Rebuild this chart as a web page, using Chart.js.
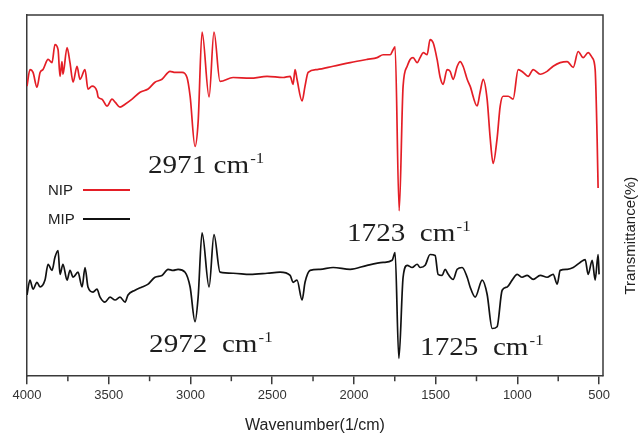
<!DOCTYPE html>
<html>
<head>
<meta charset="utf-8">
<script src="https://cdn.jsdelivr.net/npm/chart.js@4.4.1/dist/chart.umd.min.js"></script>
<style>
  html, body { margin: 0; padding: 0; background: #ffffff; }
  canvas { display: block; }
</style>
</head>
<body>
<canvas id="c" width="640" height="435"></canvas>
<script>
// ---- data (wavenumber in 1/cm, transmittance in arbitrary %) ----
const nipWavenumber = [4000,3982,3963,3939,3920,3902,3871,3847,3829,3810,3798,3786,3780,3755,3737,3718,3694,3676,3645,3627,3602,3572,3565,3541,3510,3480,3461,3431,3400,3357,3308,3259,3217,3174,3125,3094,3051,3021,3002,2972,2953,2929,2886,2856,2819,2739,2635,2531,2433,2390,2372,2360,2348,2317,2299,2280,2225,2127,2023,1919,1858,1821,1778,1760,1748,1723,1699,1674,1656,1638,1613,1595,1576,1552,1534,1515,1491,1472,1454,1430,1411,1393,1368,1350,1332,1307,1289,1246,1228,1209,1185,1166,1148,1124,1105,1087,1056,1026,995,964,934,903,860,818,781,738,695,658,628,597,567,542,524,512,506];
const nipTransmittance = [80.3,84.9,84.1,80.0,84.1,84.9,87.7,86.8,91.8,90.4,83.0,87.1,83.6,91.0,86.8,81.4,85.8,82.2,84.9,79.5,80.3,78.9,77.3,76.7,74.8,76.7,75.9,74.5,75.3,76.7,78.6,79.5,81.4,82.2,84.4,84.1,84.1,82.7,77.5,63.6,70.4,95.3,77.3,95.3,81.6,82.7,82.5,83.0,82.7,83.0,80.8,84.9,82.2,76.2,80.3,84.1,84.9,85.8,86.8,87.7,88.2,89.0,89.0,90.4,91.2,45.8,80.3,85.8,87.7,88.2,86.8,88.2,89.6,89.0,93.2,92.3,87.7,82.7,80.8,84.9,84.4,82.2,85.8,87.1,85.8,82.2,80.3,74.8,78.6,82.2,76.7,65.8,58.9,65.8,74.8,77.5,77.5,76.7,84.9,84.1,83.0,84.9,83.6,84.4,85.8,86.8,87.1,85.5,89.9,88.2,89.6,88.2,84.9,65.8,52.1];

const mipWavenumber = [4000,3982,3963,3939,3920,3890,3871,3847,3829,3810,3798,3780,3755,3737,3718,3688,3663,3645,3627,3596,3572,3553,3523,3492,3461,3431,3400,3382,3339,3296,3259,3217,3174,3137,3106,3076,3033,3002,2972,2953,2929,2886,2856,2819,2739,2635,2531,2452,2390,2372,2348,2317,2299,2268,2207,2127,2023,1919,1821,1766,1748,1725,1699,1674,1644,1613,1595,1564,1534,1503,1485,1460,1442,1423,1393,1368,1338,1307,1289,1258,1215,1185,1154,1124,1093,1062,1032,1001,971,940,903,860,818,781,756,738,695,658,616,585,567,542,524,506,500];
const mipTransmittance = [22.5,26.6,24.1,26.0,24.7,26.6,31.0,29.3,32.9,34.8,28.2,31.0,26.6,29.3,27.4,28.8,24.7,30.1,24.7,23.3,24.1,21.9,20.5,21.9,21.1,21.9,20.5,22.5,23.8,24.7,25.5,27.4,27.9,29.6,29.3,29.6,28.8,24.7,15.1,21.9,39.7,24.7,39.2,28.8,28.5,28.2,28.5,28.8,27.9,26.0,26.6,21.1,26.0,29.3,29.6,30.1,29.6,30.7,31.5,32.1,34.2,4.9,27.4,30.7,30.1,31.0,30.1,30.7,33.7,33.4,28.2,27.9,29.6,28.2,26.8,29.6,30.1,27.4,24.7,21.9,26.6,22.7,13.2,13.7,23.8,24.7,26.6,28.2,27.4,27.9,26.8,27.9,27.4,28.2,25.5,29.3,29.6,30.1,31.5,32.3,28.2,32.1,26.6,33.7,28.2];

const seriesNames = ['NIP', 'MIP'];
const xTickValues = [4000, 3500, 3000, 2500, 2000, 1500, 1000, 500];
const xTitle = 'Wavenumber(1/cm)';
const yTitle = 'Transmittance(%)';

// peak labels: main text + superscript, anchored in data units (left edge, baseline)
const peakLabels = [
  { text: '2971 cm',  sup: '-1', wn: 3260, t: 56.2 },
  { text: '1723  cm', sup: '-1', wn: 2042, t: 37.5 },
  { text: '2972  cm', sup: '-1', wn: 3253, t: 6.6 },
  { text: '1725  cm', sup: '-1', wn: 1595, t: 6.0 }
];

const toPoints = (xs, ys) => xs.map((x, i) => ({ x: x, y: ys[i] }));

const colors = ['#e41e26', '#111111'];
const frameColor = '#3a3a3a';

const decorPlugin = {
  id: 'decor',
  afterDraw(chart) {
    const c = chart.ctx;
    const a = chart.chartArea;
    const xs = chart.scales.x;
    const ys = chart.scales.y;
    c.save();
    // top and right frame
    c.strokeStyle = frameColor;
    c.lineWidth = 1.5;
    c.beginPath();
    c.moveTo(a.left, a.top);
    c.lineTo(a.right, a.top);
    c.lineTo(a.right, a.bottom);
    c.stroke();
    // minor ticks halfway between major ticks
    xs.ticks.forEach(tk => {
      const v = tk.value - 250;
      if (v < xs.max && v > xs.min) {
        const px = xs.getPixelForValue(v);
        c.beginPath();
        c.moveTo(px, a.bottom);
        c.lineTo(px, a.bottom + 5);
        c.stroke();
      }
    });
    // right-hand axis title (reads bottom to top)
    c.fillStyle = '#222';
    c.font = '15px "Liberation Sans", Arial, sans-serif';
    c.textAlign = 'center';
    c.textBaseline = 'middle';
    c.translate(631, (a.top + a.bottom) / 2 + 40);
    c.rotate(-Math.PI / 2);
    c.fillText(yTitle, 0, 0);
    c.restore();

    // legend (text then line sample)
    c.save();
    c.font = '15px "Liberation Sans", Arial, sans-serif';
    c.textBaseline = 'middle';
    c.textAlign = 'left';
    seriesNames.forEach((name, i) => {
      const y = 191 + i * 29;
      c.fillStyle = '#222';
      c.fillText(name, 48, y);
      c.strokeStyle = colors[i];
      c.lineWidth = 1.8;
      c.beginPath();
      c.moveTo(83, y - 1);
      c.lineTo(130, y - 1);
      c.stroke();
    });
    c.restore();

    // peak annotations
    c.save();
    c.fillStyle = '#1e1e1e';
    c.textBaseline = 'alphabetic';
    c.textAlign = 'left';
    peakLabels.forEach(p => {
      const px = xs.getPixelForValue(p.wn);
      const py = ys.getPixelForValue(p.t);
      c.save();
      c.translate(px, py);
      c.scale(1.12, 1);
      c.font = '26px "Liberation Serif", "Times New Roman", serif';
      c.fillText(p.text, 0, 0);
      const w = c.measureText(p.text).width;
      c.font = '15px "Liberation Serif", "Times New Roman", serif';
      c.fillText(p.sup, w + 1, -10);
      c.restore();
    });
    c.restore();
  }
};

new Chart(document.getElementById('c'), {
  type: 'line',
  data: {
    datasets: [
      { label: seriesNames[0], data: toPoints(nipWavenumber, nipTransmittance), borderColor: colors[0], borderWidth: 1.7, pointRadius: 0, fill: false, cubicInterpolationMode: 'monotone' },
      { label: seriesNames[1], data: toPoints(mipWavenumber, mipTransmittance), borderColor: colors[1], borderWidth: 1.7, pointRadius: 0, fill: false, cubicInterpolationMode: 'monotone' }
    ]
  },
  options: {
    responsive: false,
    animation: false,
    devicePixelRatio: 1,
    layout: { padding: { left: 27, top: 15, right: 37, bottom: 0 } },
    plugins: { legend: { display: false }, tooltip: { enabled: false } },
    scales: {
      x: {
        type: 'linear',
        reverse: true,
        min: 476,
        max: 4000,
        afterBuildTicks: scale => { scale.ticks = xTickValues.map(v => ({ value: v })); },
        ticks: { maxRotation: 0, padding: 3, color: '#333', font: { family: '"Liberation Sans", Arial, sans-serif', size: 13 }, callback: v => String(v) },
        grid: { display: true, drawOnChartArea: false, drawTicks: true, tickLength: 8, color: frameColor, lineWidth: 1.5 },
        border: { display: true, color: frameColor, width: 1.5 },
        title: { display: true, text: xTitle, color: '#222', font: { family: '"Liberation Sans", Arial, sans-serif', size: 16 }, padding: { top: 10, bottom: 0 } }
      },
      y: {
        min: 0,
        max: 100,
        ticks: { display: false },
        grid: { display: false, drawTicks: false },
        border: { display: true, color: frameColor, width: 1.5 }
      }
    }
  },
  plugins: [decorPlugin]
});
</script>
</body>
</html>
